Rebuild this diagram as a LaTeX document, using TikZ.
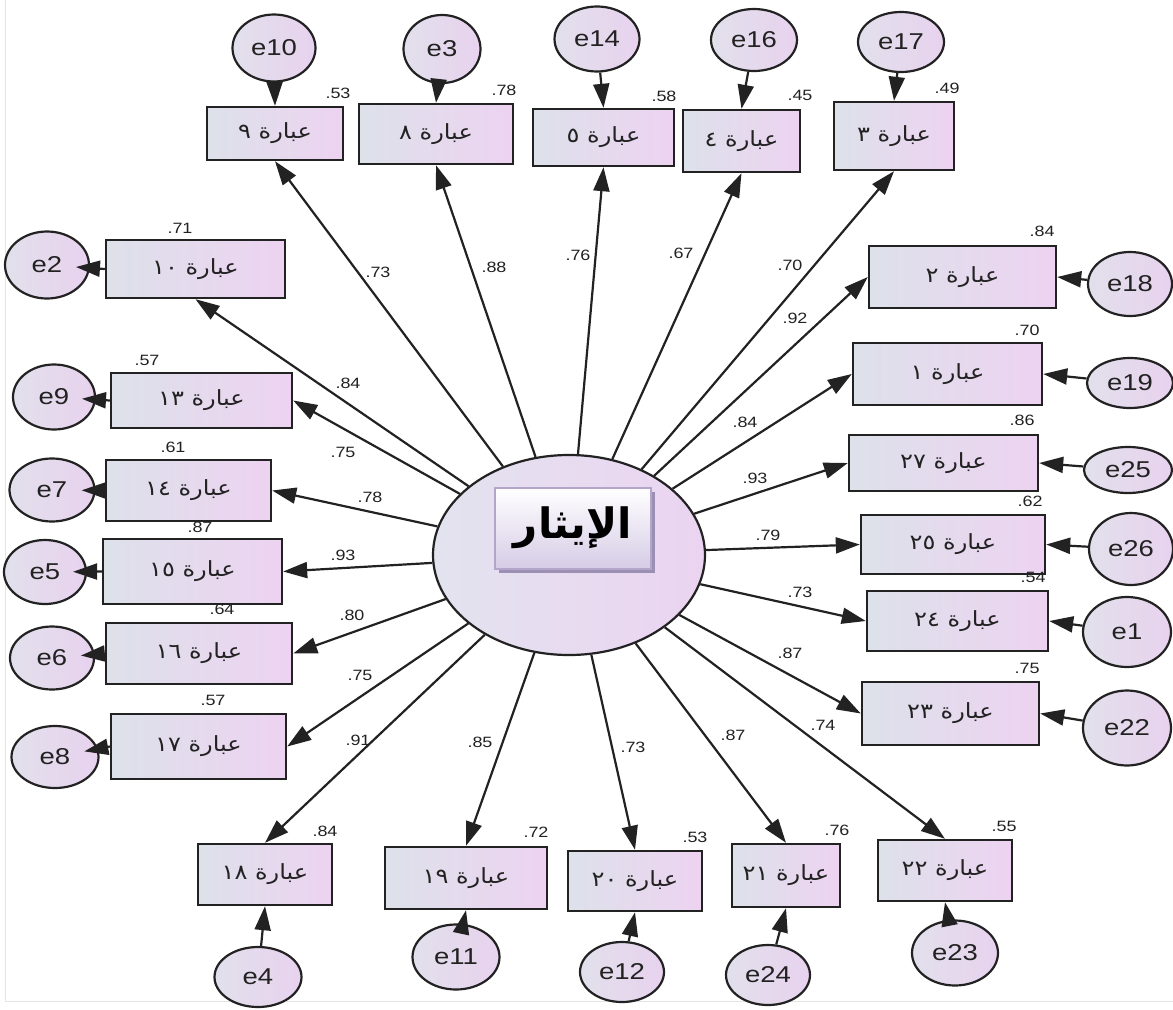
\documentclass[tikz,border=0pt]{standalone}
\usepackage{fontspec}
\setmainfont[FakeStretch=1.2]{Liberation Sans}
\newfontfamily\arabicfont[Script=Arabic]{DejaVu Sans}
\newfontfamily\arabicwide[Script=Arabic,FakeStretch=1.15]{DejaVu Sans}
\TeXXeTstate=1
\usetikzlibrary{arrows.meta,shapes.geometric,shadows}
\definecolor{ln}{HTML}{222222}
\definecolor{boxL}{HTML}{DDE1EA}
\definecolor{boxR}{HTML}{EDD3F1}
\definecolor{errL}{HTML}{E2E0EC}
\definecolor{errR}{HTML}{E8D2EE}
\definecolor{latL}{HTML}{E3E3EF}
\definecolor{latR}{HTML}{EBD4F1}
\definecolor{titB}{HTML}{B4A6CA}
\definecolor{titBot}{HTML}{D6CCE6}
\definecolor{titSh}{HTML}{9C8FB4}
\newcommand{\ibara}[1]{{\arabicwide\fontsize{21}{21}\selectfont\beginR عبارة #1\endR}}
\tikzset{
  ind/.style={rectangle, draw=ln, line width=2.4bp, left color=boxL, right color=boxR, inner sep=0pt, text=ln},
  err/.style={ellipse, draw=ln, line width=2.2bp, left color=errL, right color=errR, inner sep=0pt, text=ln, font=\fontsize{23}{23}\selectfont},
  arr/.style={draw=ln, line width=2.2bp, -{Triangle[length=24bp,width=16bp]}},
  num/.style={inner sep=0pt, text=ln, font=\fontsize{15}{15}\selectfont}
}
\begin{document}
\begin{tikzpicture}[x=1bp,y=-1bp]
\useasboundingbox (0,0) rectangle (1173,1010);
\fill[white] (0,0) rectangle (1173,1010);
\draw[gray!20, line width=1bp] (5,0) -- (5,1001) -- (1173,1001);

% latent variable
\node[ellipse, draw=ln, line width=2.2bp, left color=latL, right color=latR, minimum width=272bp, minimum height=200bp, inner sep=0pt] (lat) at (569,555) {};
\node[rectangle, draw=titB, line width=2bp, top color=white, bottom color=titBot, minimum width=156bp, minimum height=81bp, inner sep=0pt,
  drop shadow={shadow xshift=4bp, shadow yshift=-4bp, fill=titSh, opacity=1}] (title) at (573,528)
  {\arabicfont\bfseries\fontsize{42}{42}\selectfont\beginR الإيثار\endR};

% indicator boxes
\node[ind, minimum width=136bp, minimum height=53bp] (b9) at (275,133.5) {\ibara{٩}};
\node[ind, minimum width=154bp, minimum height=60bp] (b8) at (436,134) {\ibara{٨}};
\node[ind, minimum width=141bp, minimum height=57bp] (b5) at (603.5,137.5) {\ibara{٥}};
\node[ind, minimum width=117bp, minimum height=62bp] (b4) at (741.5,141) {\ibara{٤}};
\node[ind, minimum width=120bp, minimum height=68bp] (b3) at (894,136) {\ibara{٣}};
\node[ind, minimum width=187bp, minimum height=62bp] (b2) at (962.5,277) {\ibara{٢}};
\node[ind, minimum width=189bp, minimum height=62bp] (b1) at (947.5,374) {\ibara{١}};
\node[ind, minimum width=189bp, minimum height=56bp] (b27) at (943.5,463) {\ibara{٢٧}};
\node[ind, minimum width=184bp, minimum height=59bp] (b25) at (953,544.5) {\ibara{٢٥}};
\node[ind, minimum width=181bp, minimum height=60bp] (b24) at (957.5,621) {\ibara{٢٤}};
\node[ind, minimum width=177bp, minimum height=63bp] (b23) at (950.5,713.5) {\ibara{٢٣}};
\node[ind, minimum width=134bp, minimum height=61bp] (b22) at (945,870.5) {\ibara{٢٢}};
\node[ind, minimum width=108bp, minimum height=63bp] (b21) at (786,875.5) {\ibara{٢١}};
\node[ind, minimum width=134bp, minimum height=60bp] (b20) at (635,881) {\ibara{٢٠}};
\node[ind, minimum width=162bp, minimum height=62bp] (b19) at (466,878) {\ibara{١٩}};
\node[ind, minimum width=134bp, minimum height=61bp] (b18) at (265,874.5) {\ibara{١٨}};
\node[ind, minimum width=175bp, minimum height=65bp] (b17) at (198.5,746.5) {\ibara{١٧}};
\node[ind, minimum width=186bp, minimum height=61bp] (b16) at (199,653.5) {\ibara{١٦}};
\node[ind, minimum width=179bp, minimum height=65bp] (b15) at (192.5,571.5) {\ibara{١٥}};
\node[ind, minimum width=165bp, minimum height=61bp] (b14) at (188.5,490.5) {\ibara{١٤}};
\node[ind, minimum width=181bp, minimum height=55bp] (b13) at (201.5,400.5) {\ibara{١٣}};
\node[ind, minimum width=179bp, minimum height=58bp] (b10) at (195.5,269) {\ibara{١٠}};

% error terms
\node[err, minimum width=83bp, minimum height=67bp] (e10) at (274,48) {e10};
\node[err, minimum width=77bp, minimum height=68bp] (e3) at (442,49) {e3};
\node[err, minimum width=85bp, minimum height=65bp] (e14) at (597,39) {e14};
\node[err, minimum width=86bp, minimum height=62bp] (e16) at (754,40) {e16};
\node[err, minimum width=86bp, minimum height=60bp] (e17) at (901,42) {e17};
\node[err, minimum width=84bp, minimum height=64bp] (e18) at (1130,284) {e18};
\node[err, minimum width=86bp, minimum height=50bp] (e19) at (1130,383) {e19};
\node[err, minimum width=88bp, minimum height=46bp] (e25) at (1128,470) {e25};
\node[err, minimum width=84bp, minimum height=72bp] (e26) at (1131,549) {e26};
\node[err, minimum width=88bp, minimum height=70bp] (e1) at (1127,632) {e1};
\node[err, minimum width=88bp, minimum height=75bp] (e22) at (1127,728) {e22};
\node[err, minimum width=86bp, minimum height=65bp] (e23) at (955,953) {e23};
\node[err, minimum width=84bp, minimum height=60bp] (e24) at (768,975) {e24};
\node[err, minimum width=84bp, minimum height=60bp] (e12) at (622,972) {e12};
\node[err, minimum width=87bp, minimum height=65bp] (e11) at (456,957) {e11};
\node[err, minimum width=87bp, minimum height=60bp] (e4) at (258,977) {e4};
\node[err, minimum width=87bp, minimum height=62bp] (e8) at (55,757) {e8};
\node[err, minimum width=84bp, minimum height=63bp] (e6) at (52,658) {e6};
\node[err, minimum width=82bp, minimum height=64bp] (e5) at (45,572) {e5};
\node[err, minimum width=85bp, minimum height=63bp] (e7) at (52,490) {e7};
\node[err, minimum width=82bp, minimum height=65bp] (e9) at (54,397) {e9};
\node[err, minimum width=84bp, minimum height=67bp] (e2) at (47,265) {e2};

% loadings (latent -> indicators)
\foreach \b/\a in {b9/south,b8/south,b5/south,b4/south,b3/south,
                   b2/west,b1/west,b27/west,b25/west,b24/west,b23/west,
                   b22/north,b21/north,b20/north,b19/north,b18/north,
                   b17/east,b16/east,b15/east,b14/east,b13/east,b10/south}
  {\draw[arr] (lat) -- (\b.\a);}

% error arrows
\foreach \e/\b in {e10/b9,e3/b8,e14/b5,e16/b4,e17/b3}
  {\draw[arr] (\e) -- (\b.north);}
\foreach \e/\b in {e18/b2,e19/b1,e25/b27,e26/b25,e1/b24,e22/b23}
  {\draw[arr] (\e) -- (\b.east);}
\foreach \e/\b in {e4/b18,e11/b19,e12/b20,e24/b21,e23/b22}
  {\draw[arr] (\e) -- (\b.south);}
\foreach \e/\b in {e2/b10,e9/b13,e7/b14,e5/b15,e6/b16,e8/b17}
  {\draw[arr, shorten >=-14bp] (\b.west) -- (\e);}

% loading values
\node[num] (l9) at (378,272) {.73};
\node[num] (l8) at (494,267) {.88};
\node[num] (l5) at (578,255) {.76};
\node[num] (l4) at (681,253) {.67};
\node[num] (l3) at (790,265) {.70};
\node[num] (l2) at (795,318) {.92};
\node[num] (l1) at (745,422) {.84};
\node[num] (l27) at (755,478) {.93};
\node[num] (l25) at (768,535) {.79};
\node[num] (l24) at (800,592) {.73};
\node[num] (l23) at (790,653) {.87};
\node[num] (l22) at (823,725) {.74};
\node[num] (l21) at (733,735) {.87};
\node[num] (l20) at (633,747) {.73};
\node[num] (l19) at (480,742) {.85};
\node[num] (l18) at (358,740) {.91};
\node[num] (l17) at (360,675) {.75};
\node[num] (l16) at (352,615) {.80};
\node[num] (l15) at (343,555) {.93};
\node[num] (l14) at (370,497) {.78};
\node[num] (l13) at (343,452) {.75};
\node[num] (l10) at (348,383) {.84};

% squared multiple correlations
\node[num] (r9) at (338,93) {.53};
\node[num] (r8) at (504,90) {.78};
\node[num] (r5) at (664,96) {.58};
\node[num] (r4) at (800,95) {.45};
\node[num] (r3) at (947,88) {.49};
\node[num] (r2) at (1042,231) {.84};
\node[num] (r1) at (1027,330) {.70};
\node[num] (r27) at (1022,420) {.86};
\node[num] (r25) at (1030,501) {.62};
\node[num] (r24) at (1033,577) {.54};
\node[num] (r23) at (1027,668) {.75};
\node[num] (r22) at (1004,826) {.55};
\node[num] (r21) at (837,830) {.76};
\node[num] (r20) at (695,837) {.53};
\node[num] (r19) at (536,832) {.72};
\node[num] (r18) at (325,831) {.84};
\node[num] (r17) at (213,700) {.57};
\node[num] (r16) at (222,609) {.64};
\node[num] (r15) at (200,527) {.87};
\node[num] (r14) at (173,447) {.61};
\node[num] (r13) at (147,360) {.57};
\node[num] (r10) at (180,228) {.71};
\end{tikzpicture}
\end{document}
